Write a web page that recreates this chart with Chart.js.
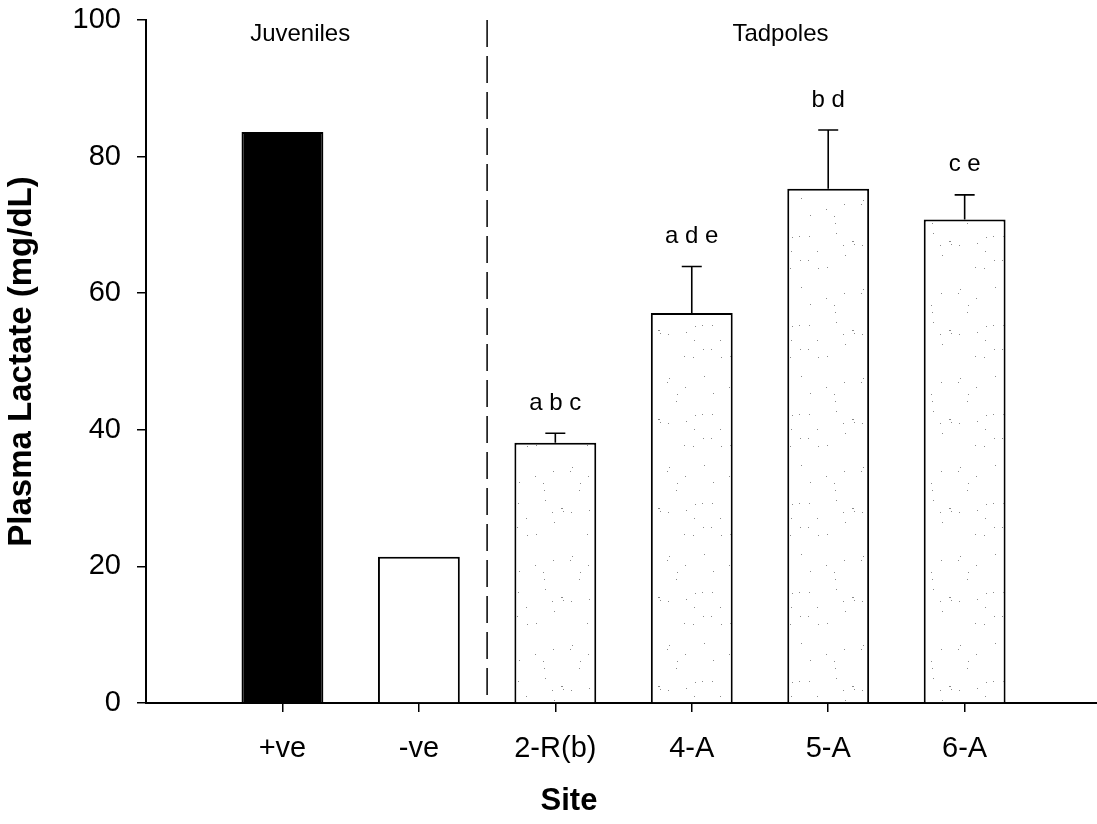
<!DOCTYPE html>
<html lang="en">
<head>
  <meta charset="UTF-8">
  <title>Plasma Lactate by Site</title>
  <script src="https://cdn.jsdelivr.net/npm/chart.js"></script>
  <style>
    html, body { margin: 0; padding: 0; background: #fff; }
    #wrap { width: 1097px; height: 824px; }
  </style>
</head>
<body>
  <div id="wrap"><canvas id="chart" width="1097" height="824"></canvas></div>
  <script>
    // values
    const sites = ['+ve', '-ve', '2-R(b)', '4-A', '5-A', '6-A'];
    const sitePos = [1, 2, 3, 4, 5, 6];
    const lactate = [83.6, 21.4, 38.1, 57.1, 75.3, 70.8];
    const sem = [null, null, 1.4, 6.8, 8.6, 3.6];
    const letters = ['', '', 'a b c', 'a d e', 'b d', 'c e'];
    const yTicks = [0, 20, 40, 60, 80, 100];
    const groups = ['Juveniles', 'Tadpoles'];

    Chart.defaults.font.family = '"Liberation Sans", Arial, sans-serif';
    Chart.defaults.color = '#000';

    // light stipple fill for the tadpole bars
    function stipple(ctx) {
      const c = document.createElement('canvas');
      c.width = 97; c.height = 89;
      const g = c.getContext('2d');
      g.fillStyle = '#fff';
      g.fillRect(0, 0, 97, 89);
      g.fillStyle = '#8a8a8a';
      for (let i = 0; i < 30; i++) {
        g.fillRect((i * 53 + 5) % 97, (i * 31 + i * i * 7) % 89, 1, 1);
      }
      return ctx.createPattern(c, 'repeat');
    }

    const ctx = document.getElementById('chart').getContext('2d');
    const dots = stipple(ctx);

    const extras = {
      id: 'extras',
      afterDatasetsDraw(chart) {
        const { ctx, chartArea, scales: { x, y } } = chart;
        ctx.save();
        ctx.strokeStyle = '#000';
        ctx.fillStyle = '#000';

        // error bars (upper only) and letters
        ctx.lineWidth = 1.6;
        ctx.font = '24px "Liberation Sans", Arial, sans-serif';
        ctx.textAlign = 'center';
        ctx.textBaseline = 'middle';
        sitePos.forEach((p, i) => {
          const px = x.getPixelForValue(p);
          let topY = y.getPixelForValue(lactate[i]);
          if (sem[i] != null) {
            const ey = y.getPixelForValue(lactate[i] + sem[i]);
            ctx.beginPath();
            ctx.moveTo(px, topY);
            ctx.lineTo(px, ey);
            ctx.moveTo(px - 10, ey);
            ctx.lineTo(px + 10, ey);
            ctx.stroke();
            topY = ey;
          }
          if (letters[i]) ctx.fillText(letters[i], px, topY - 30);
        });

        // dashed divider between juveniles and tadpoles
        const dx = x.getPixelForValue(2.5);
        ctx.lineWidth = 1.5;
        ctx.setLineDash([27, 9]);
        ctx.beginPath();
        ctx.moveTo(dx, chartArea.top);
        ctx.lineTo(dx, chartArea.bottom);
        ctx.stroke();
        ctx.setLineDash([]);

        // group headings
        ctx.font = '24px "Liberation Sans", Arial, sans-serif';
        ctx.fillText(groups[0], x.getPixelForValue(1.13), chartArea.top + 14);
        ctx.fillText(groups[1], x.getPixelForValue(4.65), chartArea.top + 14);

        // x axis title sits left of the plot centre in the original
        ctx.font = 'bold 31px "Liberation Sans", Arial, sans-serif';
        ctx.fillText('Site', x.getPixelForValue(3.1), 801);
        ctx.restore();
      }
    };

    new Chart(ctx, {
      type: 'bar',
      data: {
        datasets: [{
          data: sitePos.map((p, i) => ({ x: p, y: lactate[i] })),
          backgroundColor: ['#000', '#fff', dots, dots, dots, dots],
          borderColor: '#000',
          borderWidth: 2,
          borderSkipped: 'start',
          categoryPercentage: 0.6,
          barPercentage: 1
        }]
      },
      options: {
        responsive: false,
        animation: false,
        layout: { padding: { top: 20, right: 0, left: 0, bottom: 0 } },
        plugins: {
          legend: { display: false },
          tooltip: { enabled: false }
        },
        scales: {
          x: {
            type: 'linear',
            min: 0,
            max: 6.97,
            offset: false,
            afterBuildTicks: s => { s.ticks = sitePos.map(v => ({ value: v })); },
            afterFit: s => { s.height = 121; s.paddingLeft = 0; s.paddingRight = 0; },
            grid: { offset: false, drawOnChartArea: false, color: '#000', lineWidth: 1.5, tickLength: 9 },
            border: { color: '#000', width: 2 },
            ticks: {
              padding: 20,
              font: { size: 29 },
              callback: (v) => sites[sitePos.indexOf(v)] ?? ''
            },
            title: { display: false }
          },
          y: {
            min: 0,
            max: 100,
            afterBuildTicks: s => { s.ticks = yTicks.map(v => ({ value: v })); },
            afterFit: s => { s.width = 146; s.paddingTop = 0; s.paddingBottom = 0; },
            grid: { drawOnChartArea: false, color: '#000', lineWidth: 1.5, tickLength: 9 },
            border: { color: '#000', width: 2 },
            ticks: { padding: 16, font: { size: 29 } },
            title: {
              display: true,
              text: 'Plasma Lactate (mg/dL)',
              font: { size: 33, weight: 'bold' },
              padding: { top: 2, bottom: 2 }
            }
          }
        }
      },
      plugins: [extras]
    });
  </script>
</body>
</html>
